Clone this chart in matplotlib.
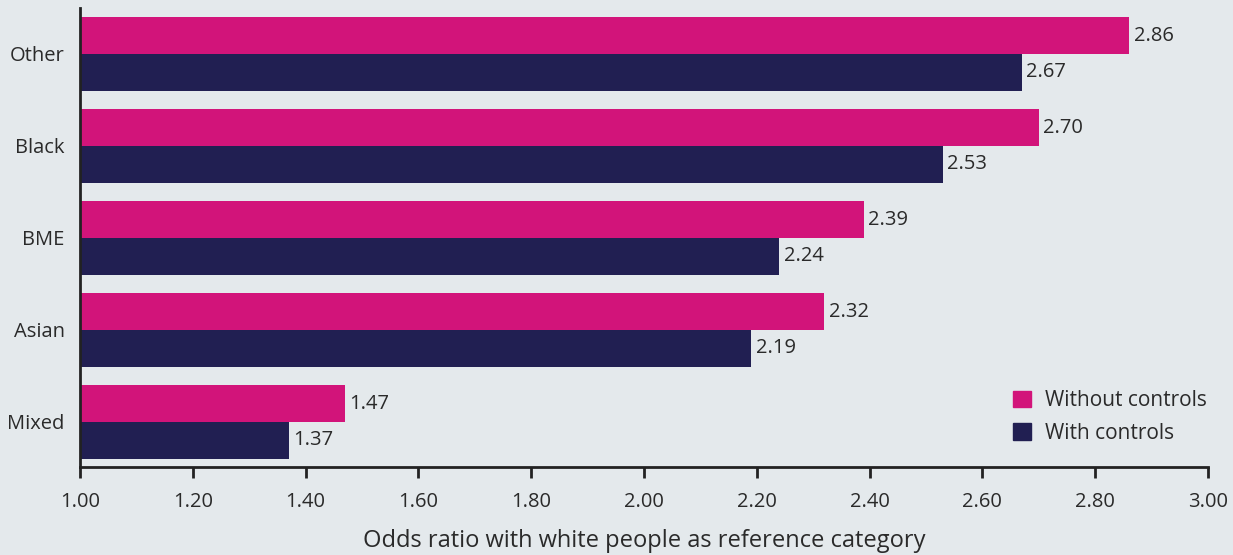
import numpy as np
import matplotlib.pyplot as plt
from matplotlib.patches import Patch

categories = ['Mixed', 'Asian', 'BME', 'Black', 'Other']
without_controls = [1.47, 2.32, 2.39, 2.70, 2.86]
with_controls = [1.37, 2.19, 2.24, 2.53, 2.67]
xticks = [1.0, 1.2, 1.4, 1.6, 1.8, 2.0, 2.2, 2.4, 2.6, 2.8, 3.0]

bg = '#e4e9ec'
pink = '#d2147a'
navy = '#211f52'
txt = '#2a2a2a'

plt.rcParams['font.family'] = ['Open Sans', 'DejaVu Sans']

fig = plt.figure(figsize=(12.33, 5.55), dpi=100, facecolor=bg)
ax = fig.add_axes([0.0649, 0.1586, 0.9148, 0.827], facecolor=bg)

y = np.arange(len(categories))
h = 0.4
base = 1.0
ax.barh(y + h / 2, np.array(without_controls) - base, left=base, height=h, color=pink)
ax.barh(y - h / 2, np.array(with_controls) - base, left=base, height=h, color=navy)

fs = 14.5
for yi, v in zip(y, without_controls):
    ax.text(v + 0.008, yi + h / 2, f'{v:.2f}', va='center', ha='left', fontsize=fs, color=txt)
for yi, v in zip(y, with_controls):
    ax.text(v + 0.008, yi - h / 2, f'{v:.2f}', va='center', ha='left', fontsize=fs, color=txt)

ax.set_xlim(1.0, 3.0)
ax.set_ylim(-0.49, 4.5)
ax.set_xticks(xticks)
ax.set_xticklabels([f'{t:.2f}' for t in xticks], fontsize=fs, color=txt)
ax.set_yticks(y)
ax.set_yticklabels(categories, fontsize=fs, color=txt)
ax.tick_params(axis='y', length=0, pad=11)
ax.tick_params(axis='x', length=8, width=2, color='#222222', pad=10, direction='out')
for s in ['top', 'right']:
    ax.spines[s].set_visible(False)
for s in ['left', 'bottom']:
    ax.spines[s].set_linewidth(2)
    ax.spines[s].set_color('#222222')

ax.set_xlabel('Odds ratio with white people as reference category', fontsize=17, color=txt, labelpad=12)

handles = [Patch(color=pink, label='Without controls'), Patch(color=navy, label='With controls')]
ax.legend(handles=handles, loc='lower right', bbox_to_anchor=(1.016, 0.01), frameon=False,
          fontsize=15, handlelength=0.85, handleheight=0.85, handletextpad=0.7, labelspacing=0.55,
          labelcolor=txt)

fig.savefig('out.png', dpi=100, facecolor=bg)
